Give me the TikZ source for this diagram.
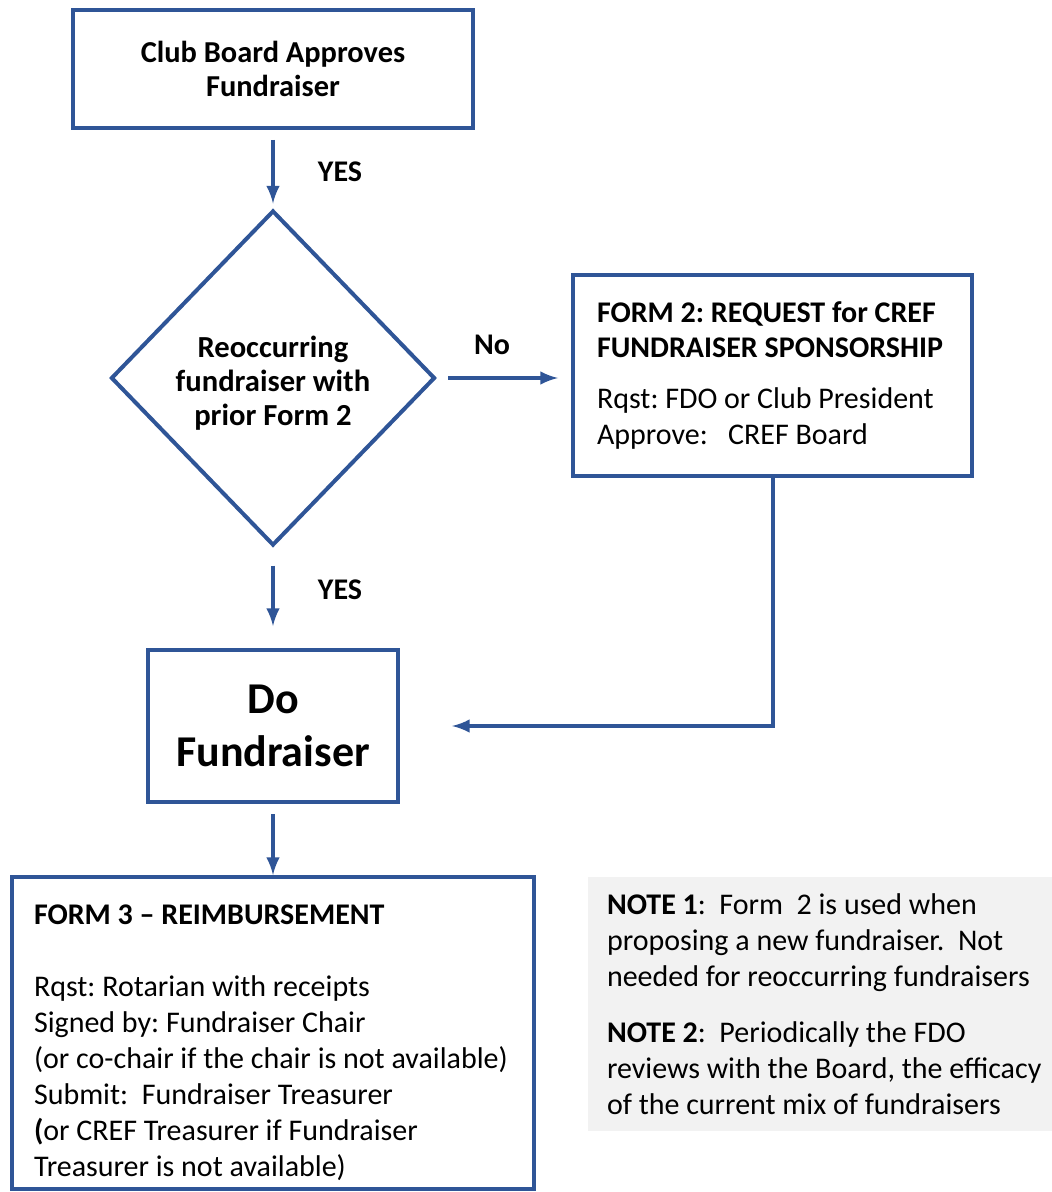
\documentclass[tikz,border=0pt]{standalone}
\usepackage{fontspec}
\setmainfont{Carlito}
\usetikzlibrary{shapes, arrows, positioning, shapes.geometric, calc}
\definecolor{flowblue}{HTML}{2F5597}
\definecolor{notegray}{HTML}{F2F2F2}
\frenchspacing

\begin{document}
\begin{tikzpicture}[x=0.5pt, y=-0.5pt, every node/.style={font=\fontsize{15}{18}\selectfont}]
                    \tikzstyle{box} = [draw=flowblue, line width=2pt, rectangle, inner sep=0pt]
                    \tikzstyle{decision} = [draw=flowblue, line width=2pt, diamond, minimum width=162pt, minimum height=167.5pt, inner sep=0pt, align=center, font=\bfseries\fontsize{15.3}{17.2}\selectfont]
                    \tikzstyle{flow} = [draw=flowblue, line width=2pt, -latex]
                    \tikzstyle{tag} = [inner sep=0pt, font=\bfseries\fontsize{15}{15}\selectfont]
                    \useasboundingbox (0,0) rectangle (1052,1192);

                    \node[box, minimum width=200pt, minimum height=59pt, align=center, font=\bfseries\fontsize{15.2}{17}\selectfont] (approve) at (273,69) {Club Board Approves\\Fundraiser};
                    \node[decision] (reoccur) at (273,378) {\rule{0pt}{16pt}Reoccurring\\fundraiser with\\prior Form 2};
                    \node[box, minimum width=199.5pt, minimum height=100.5pt, text width=175.5pt, align=flush left] (form2) at (772.5,375.5) {\textbf{\fontsize{15}{17.5}\selectfont FORM 2: REQUEST for CREF}\\[-0.5pt]\textbf{\fontsize{15}{17.5}\selectfont FUNDRAISER SPONSORSHIP}\\[7.5pt]Rqst: FDO or Club President\\Approve:\ \ \ CREF Board};
                    \node[box, minimum width=125pt, minimum height=76pt, align=center, font=\bfseries\fontsize{22}{26.5}\selectfont] (dofund) at (273,726) {Do\\Fundraiser};
                    \node[box, minimum width=261pt, minimum height=156pt, text width=239pt, align=flush left] (form3) at (273,1033) {\rule{0pt}{20pt}\textbf{FORM 3 -- REIMBURSEMENT}\\[18pt]Rqst: Rotarian with receipts\\Signed by: Fundraiser Chair\\(or co-chair if the chair is not available)\\Submit:\ \ Fundraiser Treasurer\\\textbf{(}or CREF Treasurer if Fundraiser\\Treasurer is not available)};
                    \node[fill=notegray, inner sep=0pt, minimum width=241.5pt, minimum height=127pt, text width=222.5pt, align=flush left] (note) at (829.5,1004) {\textbf{NOTE 1}:\ \ Form\ \ 2 is used when\\proposing a new fundraiser.\ \ Not\\needed for reoccurring fundraisers\\[10pt]\textbf{NOTE 2}:\ \ Periodically the FDO\\reviews with the Board, the efficacy\\of the current mix of fundraisers};

                    \node[tag] (yes1) at (340,172) {YES};
                    \node[tag] (no) at (492,345) {No};
                    \node[tag] (yes2) at (340,590) {YES};

                    \draw[flow, shorten <=5pt, shorten >=2.5pt] (approve) -- (reoccur);
                    \draw[flow, shorten <=5.5pt, shorten >=6.5pt] (reoccur.east) -- (reoccur.east -| form2.west);
                    \draw[flow, shorten <=9pt, shorten >=11pt] (reoccur) -- (dofund);
                    \draw[flow, shorten >=26pt] (form2.south) |- (dofund.east);
                    \draw[flow, shorten <=5pt] (dofund) -- (form3);
                \end{tikzpicture}
\end{document}
